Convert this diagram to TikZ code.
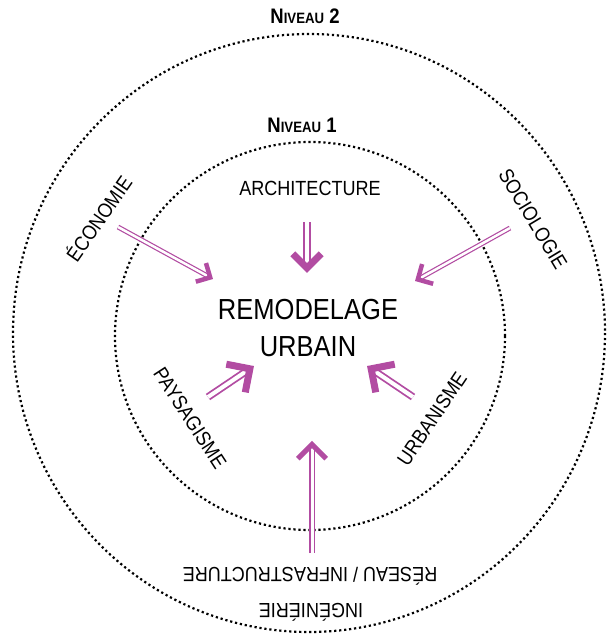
\documentclass[tikz,border=0pt]{standalone}
\usepackage{fontspec}
\setmainfont{Liberation Sans}[FakeStretch=0.88]
\usetikzlibrary{calc}
\definecolor{mag}{RGB}{178,76,162}
\newcommand\magarrow[7]{%
  \coordinate (#2-v) at ($(#2)!#3!(#1)$);
  \coordinate (#2-a) at ($(#2-v)!#4!45:(#1)$);
  \coordinate (#2-b) at ($(#2-v)!#4!-45:(#1)$);
  \draw[draw=mag, line width=#6, double=white, double distance=#7] (#1) -- (#2-v);
  \draw[draw=mag, line width=#5, line join=miter, miter limit=4] (#2-a) -- (#2-v) -- (#2-b);
}
\newcommand\niv[1]{\bfseries{\fontsize{21}{21}\selectfont N}{\fontsize{15}{15}\selectfont IVEAU}\fontsize{21}{21}\selectfont\ #1}
\begin{document}
\begin{tikzpicture}[x=1pt,y=-1pt,
  dotc/.style={draw=black, line width=2.2pt, dash pattern=on 2.2pt off 2.8pt},
  lab/.style={font=\fontsize{20.5}{22}\selectfont, inner sep=0pt},
  title/.style={font=\fontsize{29}{37}\selectfont, align=center, inner sep=0pt},
  nivl/.style={inner sep=0pt}]
\useasboundingbox (0,0) rectangle (609,637);
\fill[white] (0,0) rectangle (609,637);
\draw[dotc] (309,333) ellipse [x radius=296, y radius=299];
\draw[dotc] (310,336) ellipse [x radius=195, y radius=194];

\node[nivl] (n2) at (305,16) {\niv{2}};
\node[nivl] (n1) at (302,125) {\niv{1}};

\node[title] (rem) at (308,328) {REMODELAGE\\URBAIN};

\node[lab] (arch) at (310,188) {ARCHITECTURE};
\node[lab, rotate=55] (eco) at (98,218) {ÉCONOMIE};
\node[lab, rotate=-59] (soc) at (533,219) {SOCIOLOGIE};
\node[lab, rotate=-57] (pay) at (190,418) {PAYSAGISME};
\node[lab, rotate=56] (urb) at (432,419) {URBANISME};
\node[lab, rotate=180] (res) at (310,576) {RÉSEAU / INFRASTRUCTURE};
\node[lab, rotate=180] (ing) at (311,612) {INGÉNIÉRIE};

\coordinate (archS) at (307,222); \coordinate (archT) at (307,273);
\coordinate (ecoS) at (118,227);  \coordinate (ecoT) at (213,279);
\coordinate (socS) at (510,228);  \coordinate (socT) at (415,281);
\coordinate (payS) at (208,397);  \coordinate (payT) at (254,366);
\coordinate (urbS) at (413,397);  \coordinate (urbT) at (367,366);
\coordinate (resS) at (312,553);  \coordinate (resT) at (312,441);

\magarrow{archS}{archT}{5pt}{20pt}{7pt}{1.8pt}{4pt}
\magarrow{ecoS}{ecoT}{3.2pt}{15pt}{4.5pt}{1.2pt}{2.5pt}
\magarrow{socS}{socT}{3.2pt}{16pt}{4.5pt}{1.2pt}{2.5pt}
\magarrow{payS}{payT}{5pt}{24pt}{7pt}{1.8pt}{4pt}
\magarrow{urbS}{urbT}{5pt}{24pt}{7pt}{1.8pt}{4pt}
\magarrow{resS}{resT}{3.5pt}{20pt}{5pt}{1.4pt}{3pt}
\end{tikzpicture}
\end{document}
